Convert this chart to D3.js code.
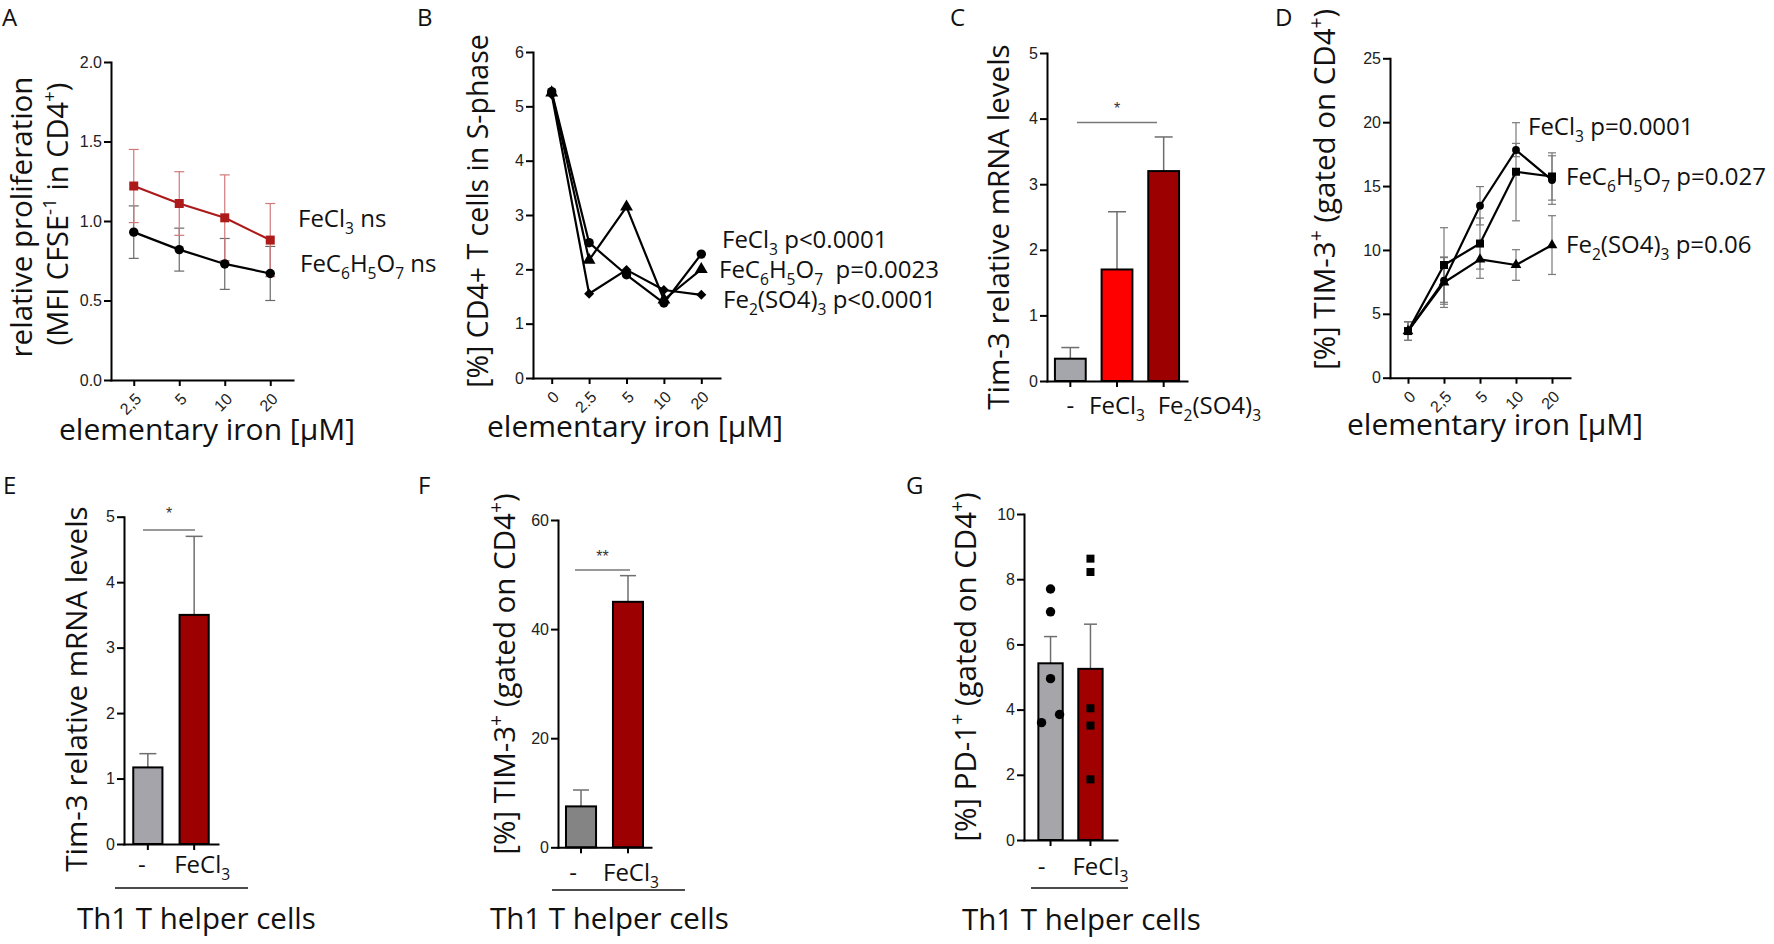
<!DOCTYPE html>
<html><head><meta charset="utf-8">
<script src="https://cdn.jsdelivr.net/npm/d3@7"></script>
<style>
body{margin:0;background:#fff;}
</style></head><body><svg id="c" width="1774" height="944"></svg>
<script>
// ---------------- DATA ----------------
// Panel A
const ironA = ["2,5","5","10","20"];
const aFeCl3 = [1.22,1.11,1.02,0.88];
const aFeCl3Err = [0.23,0.20,0.27,0.23];
const aCitrate = [0.93,0.82,0.73,0.67];
const aCitrateErr = [0.165,0.135,0.16,0.17];
const aYTicks = [0,0.5,1,1.5,2];
// Panel B
const ironB = ["0","2.5","5","10","20"];
const bFeCl3 = [5.27,2.49,1.90,1.38,2.28];
const bCitrate = [5.25,2.17,3.15,1.44,2.00];
const bSulfate = [5.22,1.55,1.99,1.62,1.53];
const bYTicks = [0,1,2,3,4,5,6];
// Panel C
const groupsC = ["-","FeCl_3","Fe_2(SO4)_3"];
const cValues = [0.34,1.70,3.20];
const cErr = [0.17,0.88,0.52];
const cYTicks = [0,1,2,3,4,5];
// Panel D
const ironD = ["0","2,5","5","10","20"];
const dFeCl3 = [3.65,7.60,13.46,17.82,15.47];
const dFeCl3Err = [0.73,1.85,1.50,0.52,1.90];
const dCitrate = [3.65,8.82,10.50,16.12,15.75];
const dCitrateErr = [0.73,2.92,2.00,3.84,1.85];
const dSulfate = [3.65,7.45,9.26,8.82,10.38];
const dSulfateErr = [0.73,1.95,1.48,1.20,2.30];
const dYTicks = [0,5,10,15,20,25];
// Panels E, F, G
const groupsTh1 = ["-","FeCl_3"];
const eValues = [1.17,3.50];
const eErr = [0.21,1.20];
const eYTicks = [0,1,2,3,4,5];
const fValues = [7.5,45.0];
const fErr = [3.0,4.8];
const fYTicks = [0,20,40,60];
const gValues = [5.42,5.25];
const gErr = [0.82,1.37];
const gMinusPoints = [7.7,7.0,4.95,3.6,3.85];
const gFeCl3Points = [8.63,8.22,4.04,3.51,1.86];
const gYTicks = [0,2,4,6,8,10];

// ---------------- HELPERS ----------------
const svg = d3.select("#c");
svg.append("rect").attr("width",1774).attr("height",944).attr("fill","#fff");
const FONT = "'Open Sans', sans-serif";
const TICKFONT = "'Liberation Sans', Arial, sans-serif";

function rich(t, str, size){
  const re = /([_^])(\{[^}]*\}|.)/g;
  let last = 0, m, parts = [];
  while ((m = re.exec(str))) {
    if (m.index > last) parts.push([str.slice(last, m.index), 0]);
    let s = m[2]; if (s[0] === "{") s = s.slice(1, -1);
    parts.push([s, m[1] === "_" ? 1 : -1]);
    last = re.lastIndex;
  }
  if (last < str.length) parts.push([str.slice(last), 0]);
  let cur = 0;
  parts.forEach(([s, k]) => {
    const target = k === 1 ? size*0.30 : k === -1 ? -size*0.40 : 0;
    const ts = t.append("tspan").text(s).attr("dy", target - cur);
    if (k) ts.attr("font-size", size*0.65);
    cur = target;
  });
}
function txt(x, y, str, size, o = {}){
  const t = svg.append("text").attr("x", x).attr("y", y).attr("font-size", size)
    .attr("fill", o.fill || "#111").attr("text-anchor", o.anchor || "start")
    .attr("font-family", o.family || FONT).style("white-space", "pre");
  if (o.rot) t.attr("transform", `rotate(-90,${x},${y})`);
  rich(t, str, size);
  return t;
}
function styleAxis(ax){
  ax.attr("font-size", null).attr("font-family", null);
  ax.select(".domain").attr("stroke", "#000").attr("stroke-width", 2).attr("stroke-linecap", "square");
  ax.selectAll(".tick line").attr("stroke", "#000").attr("stroke-width", 2);
  ax.selectAll(".tick text").attr("fill", "#222").attr("font-size", 16).attr("font-family", TICKFONT);
}
function axes(xs, ys, yTicks, fmt, yb, rotateLabels, hideX){
  const x0 = xs.range()[0];
  const gy = svg.append("g").attr("transform", `translate(${x0},0)`)
    .call(d3.axisLeft(ys).tickValues(yTicks).tickFormat(fmt).tickSize(7).tickPadding(2).tickSizeOuter(0));
  const ax = d3.axisBottom(xs).tickSize(6).tickSizeOuter(0);
  if (hideX) ax.tickFormat("");
  const gx = svg.append("g").attr("transform", `translate(0,${yb})`).call(ax);
  styleAxis(gy); styleAxis(gx);
  if (rotateLabels) gx.selectAll(".tick text").attr("x", 0).attr("y", 0).attr("dy", "0.35em")
    .attr("text-anchor", "end").attr("transform", "translate(4,16) rotate(-45)");
}
const SYM = {
  circle: d3.symbol(d3.symbolCircle, 70)(),
  square: d3.symbol(d3.symbolSquare, 81)(),
  triangle: d3.symbol(d3.symbolTriangle, 72)(),
  diamond: d3.symbol(d3.symbolSquare, 50)(),
  circleS: d3.symbol(d3.symbolCircle, 48)(),
  squareS: d3.symbol(d3.symbolSquare, 64)(),
  triangleS: d3.symbol(d3.symbolTriangle, 50)()
};
function errBars(xs, ys, cats, vals, errs, color, cap){
  cats.forEach((c, i) => {
    const cx = xs(c), lo = ys(vals[i]-errs[i]), hi = ys(vals[i]+errs[i]);
    const g = svg.append("g").attr("stroke", color).attr("stroke-width", 1.2);
    g.append("line").attr("x1", cx).attr("x2", cx).attr("y1", lo).attr("y2", hi);
    g.append("line").attr("x1", cx-cap/2).attr("x2", cx+cap/2).attr("y1", lo).attr("y2", lo);
    g.append("line").attr("x1", cx-cap/2).attr("x2", cx+cap/2).attr("y1", hi).attr("y2", hi);
  });
}
function seriesLine(xs, ys, cats, vals, color, lw){
  svg.append("path").datum(vals)
    .attr("d", d3.line().x((d,i) => xs(cats[i])).y(d => ys(d)))
    .attr("fill", "none").attr("stroke", color).attr("stroke-width", lw).attr("stroke-linejoin", "round");
}
function markers(xs, ys, cats, vals, color, sym, rot){
  svg.append("g").selectAll("path").data(vals).join("path")
    .attr("transform", (d,i) => `translate(${xs(cats[i])},${ys(d)})` + (rot ? " rotate(45)" : ""))
    .attr("d", sym).attr("fill", color);
}
function bars(xs, ys, cats, vals, errs, colors, cap){
  cats.forEach((c, i) => {
    const cx = xs(c) + xs.bandwidth()/2;
    svg.append("line").attr("x1", cx).attr("x2", cx).attr("y1", ys(vals[i])).attr("y2", ys(vals[i]+errs[i]))
      .attr("stroke", "#6e6e6e").attr("stroke-width", 1.5);
    svg.append("line").attr("x1", cx-cap/2).attr("x2", cx+cap/2).attr("y1", ys(vals[i]+errs[i])).attr("y2", ys(vals[i]+errs[i]))
      .attr("stroke", "#6e6e6e").attr("stroke-width", 1.5);
  });
  svg.append("g").selectAll("rect").data(vals).join("rect")
    .attr("x", (d,i) => xs(cats[i])).attr("width", xs.bandwidth())
    .attr("y", d => ys(d)).attr("height", d => ys(0) - ys(d))
    .attr("fill", (d,i) => colors[i]).attr("stroke", "#000").attr("stroke-width", 2);
}
function barLabels(xs, cats, yb, shifts, anchors){
  cats.forEach((c, i) => {
    const cx = xs(c) + xs.bandwidth()/2 + shifts[i];
    txt(cx, yb, c, 24, {anchor: anchors ? anchors[i] : "middle"});
  });
}
function sig(x1, x2, y, stars, sy){
  svg.append("line").attr("x1", x1).attr("x2", x2).attr("y1", y).attr("y2", y)
    .attr("stroke", "#777").attr("stroke-width", 1.5);
  txt((x1+x2)/2, sy, stars, 16, {anchor: "middle", family: TICKFONT, fill: "#333"});
}
const f1 = d3.format(".1f"), f0 = d3.format("d");

// panel letters
[["A",2,26],["B",417,26],["C",950,26],["D",1275,26],["E",3,494],["F",418,494],["G",906,494]]
  .forEach(([l,x,y]) => txt(x, y, l, 24));

// ---------------- PANEL A ----------------
{
  const x = d3.scalePoint().domain(ironA).range([111,293]).padding(0.5);
  const y = d3.scaleLinear().domain([0,2]).range([380,62]);
  axes(x, y, aYTicks, f1, 380, true);
  errBars(x, y, ironA, aCitrate, aCitrateErr, "#6a6a6a", 10);
  errBars(x, y, ironA, aFeCl3, aFeCl3Err, "#cf7a7a", 10);
  seriesLine(x, y, ironA, aCitrate, "#000", 2.2);
  seriesLine(x, y, ironA, aFeCl3, "#ad1a1a", 2.2);
  markers(x, y, ironA, aCitrate, "#000", SYM.circle);
  markers(x, y, ironA, aFeCl3, "#ad1a1a", SYM.square);
  txt(298, 227, "FeCl_3 ns", 24);
  txt(300, 272, "FeC_6H_5O_7 ns", 24);
  txt(32, 217, "relative proliferation", 29.5, {rot: true, anchor: "middle"});
  txt(68, 214, "(MFI CFSE^{-1} in CD4^+)", 29, {rot: true, anchor: "middle"});
  txt(207, 440, "elementary iron [µM]", 30, {anchor: "middle"});
}
// ---------------- PANEL B ----------------
{
  const x = d3.scalePoint().domain(ironB).range([533,720]).padding(0.5);
  const y = d3.scaleLinear().domain([0,6]).range([378,52]);
  axes(x, y, bYTicks, f0, 378, true);
  seriesLine(x, y, ironB, bSulfate, "#000", 2.2);
  seriesLine(x, y, ironB, bCitrate, "#000", 2.2);
  seriesLine(x, y, ironB, bFeCl3, "#000", 2.2);
  markers(x, y, ironB, bSulfate, "#000", SYM.diamond, true);
  markers(x, y, ironB, bCitrate, "#000", SYM.triangle);
  markers(x, y, ironB, bFeCl3, "#000", SYM.circle);
  txt(722, 248, "FeCl_3 p<0.0001", 24);
  txt(719, 278, "FeC_6H_5O_7  p=0.0023", 24);
  txt(723, 308, "Fe_2(SO4)_3 p<0.0001", 24);
  txt(488, 211, "[%] CD4+ T cells in S-phase", 28.5, {rot: true, anchor: "middle"});
  txt(635, 437, "elementary iron [µM]", 30, {anchor: "middle"});
}
// ---------------- PANEL C ----------------
{
  const x = d3.scaleBand().domain(groupsC).range([1047,1187]).paddingInner(0.34).paddingOuter(0.17);
  const y = d3.scaleLinear().domain([0,5]).range([381,53]);
  bars(x, y, groupsC, cValues, cErr, ["#a5a5ac","#ff0000","#9c0000"], 18);
  axes(x, y, cYTicks, f0, 381, false, true);
  barLabels(x, groupsC, 414, [0,0,-6], ["middle","middle","start"]);
  sig(1077, 1157, 122.5, "*", 114);
  txt(1009, 227, "Tim-3 relative mRNA levels", 29.5, {rot: true, anchor: "middle"});
}
// ---------------- PANEL D ----------------
{
  const x = d3.scalePoint().domain(ironD).range([1390,1570]).padding(0.5);
  const y = d3.scaleLinear().domain([0,25]).range([377.7,58.3]);
  axes(x, y, dYTicks, f0, 377.7, true);
  errBars(x, y, ironD, dFeCl3, dFeCl3Err, "#7a7a7a", 8);
  errBars(x, y, ironD, dCitrate, dCitrateErr, "#7a7a7a", 8);
  errBars(x, y, ironD, dSulfate, dSulfateErr, "#7a7a7a", 8);
  seriesLine(x, y, ironD, dSulfate, "#000", 2.2);
  seriesLine(x, y, ironD, dCitrate, "#000", 2.2);
  seriesLine(x, y, ironD, dFeCl3, "#000", 2.2);
  markers(x, y, ironD, dSulfate, "#000", SYM.triangleS);
  markers(x, y, ironD, dFeCl3, "#000", SYM.circleS);
  markers(x, y, ironD, dCitrate, "#000", SYM.squareS);
  txt(1528, 135, "FeCl_3 p=0.0001", 24);
  txt(1566, 185, "FeC_6H_5O_7 p=0.027", 24);
  txt(1566, 253, "Fe_2(SO4)_3 p=0.06", 24);
  txt(1335, 370, "[%] TIM-3^+ (gated on CD4^+)", 29.5, {rot: true});
  txt(1495, 435, "elementary iron [µM]", 30, {anchor: "middle"});
}
// ---------------- PANEL E ----------------
{
  const x = d3.scaleBand().domain(groupsTh1).range([124,218]).paddingInner(0.37).paddingOuter(0.2);
  const y = d3.scaleLinear().domain([0,5]).range([844,516.7]);
  bars(x, y, groupsTh1, eValues, eErr, ["#a4a4aa","#9c0000"], 17);
  axes(x, y, eYTicks, f0, 844, false, true);
  barLabels(x, groupsTh1, 873, [-6,8]);
  sig(143, 195, 530, "*", 519);
  svg.append("line").attr("x1",115).attr("x2",248).attr("y1",888).attr("y2",888).attr("stroke","#111").attr("stroke-width",1.3);
  txt(77, 929, "Th1 T helper cells", 29.5);
  txt(87, 689, "Tim-3 relative mRNA levels", 29.5, {rot: true, anchor: "middle"});
}
// ---------------- PANEL F ----------------
{
  const x = d3.scaleBand().domain(groupsTh1).range([558,651]).paddingInner(0.36).paddingOuter(0.17);
  const y = d3.scaleLinear().domain([0,60]).range([847.3,520]);
  bars(x, y, groupsTh1, fValues, fErr, ["#848484","#9c0000"], 16);
  axes(x, y, fYTicks, f0, 847.3, false, true);
  barLabels(x, groupsTh1, 881, [-8,3]);
  sig(575, 630, 570, "**", 562);
  svg.append("line").attr("x1",552).attr("x2",685).attr("y1",890).attr("y2",890).attr("stroke","#111").attr("stroke-width",1.3);
  txt(490, 929, "Th1 T helper cells", 29.5);
  txt(515, 674, "[%] TIM-3^+ (gated on CD4^+)", 29.5, {rot: true, anchor: "middle"});
}
// ---------------- PANEL G ----------------
{
  const x = d3.scaleBand().domain(groupsTh1).range([1024,1117]).paddingInner(0.39).paddingOuter(0.36);
  const y = d3.scaleLinear().domain([0,10]).range([840,514]);
  bars(x, y, groupsTh1, gValues, gErr, ["#a5a5aa","#a00000"], 13);
  axes(x, y, gYTicks, f0, 840, false, true);
  // scatter points with simple dodge for overlapping symbols
  function dodge(vals){
    const idx = vals.map((v,i)=>i).sort((a,b)=>vals[a]-vals[b]);
    const off = new Array(vals.length).fill(0);
    let cluster = [idx[0]];
    const flush = () => { const n = cluster.length; cluster.forEach((k,j)=> off[k] = (j-(n-1)/2)*18); };
    for (let j = 1; j < idx.length; j++) {
      if (Math.abs(y(vals[idx[j]]) - y(vals[cluster[cluster.length-1]])) < 9) cluster.push(idx[j]);
      else { flush(); cluster = [idx[j]]; }
    }
    flush();
    return off;
  }
  [[gMinusPoints, SYM.circle, 0],[gFeCl3Points, SYM.squareS, 1]].forEach(([pts, sym, gi]) => {
    const cx = x(groupsTh1[gi]) + x.bandwidth()/2;
    const off = dodge(pts);
    svg.append("g").selectAll("path").data(pts).join("path")
      .attr("transform", (d,i) => `translate(${cx+off[i]},${y(d)})`).attr("d", sym).attr("fill", "#000");
  });
  barLabels(x, groupsTh1, 875, [-9,10]);
  svg.append("line").attr("x1",1031).attr("x2",1128).attr("y1",888).attr("y2",888).attr("stroke","#111").attr("stroke-width",1.3);
  txt(962, 930, "Th1 T helper cells", 29.5);
  txt(976, 667, "[%] PD-1^+ (gated on CD4^+)", 29.5, {rot: true, anchor: "middle"});
}
</script></body></html>
